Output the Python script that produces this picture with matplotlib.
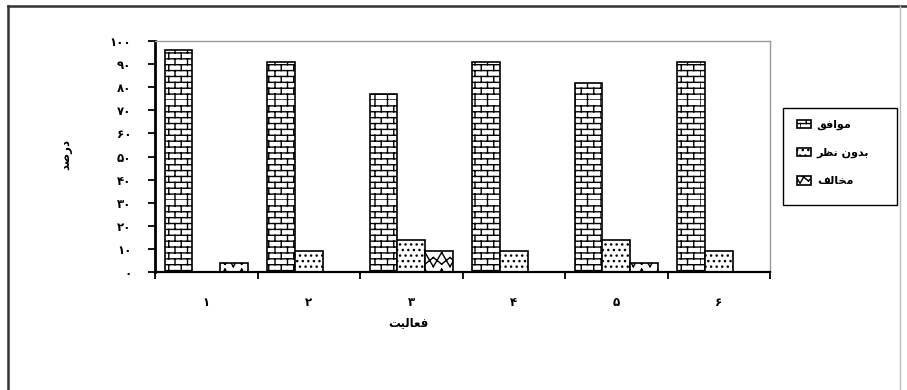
import warnings
import numpy as np
import matplotlib
matplotlib.use("Agg")
import matplotlib.pyplot as plt
from matplotlib import hatch as mhatch
from matplotlib.path import Path
from matplotlib.patches import Rectangle
from matplotlib.lines import Line2D

warnings.simplefilter("ignore")

# ---- data -------------------------------------------------------------
activities = ["۱", "۲", "۳", "۴", "۵", "۶"]
agree = [96, 91, 77, 91, 82, 91]
neutral = [0, 9, 14, 9, 14, 9]
disagree = [4, 0, 9, 0, 4, 0]
series_names = ["موافق", "بدون نظر", "مخالف"]
y_ticks = [0, 10, 20, 30, 40, 50, 60, 70, 80, 90, 100]
y_tick_labels = ["۰", "۱۰", "۲۰", "۳۰", "۴۰", "۵۰", "۶۰", "۷۰", "۸۰", "۹۰", "۱۰۰"]
x_title = "فعالیت"
y_title = "درصد"

# ---- minimal Persian shaping (presentation forms + visual order) -------
FORMS = {  # isolated, final, initial, medial
    "ا": ("\uFE8D", "\uFE8E", None, None),
    "ب": ("\uFE8F", "\uFE90", "\uFE91", "\uFE92"),
    "ت": ("\uFE95", "\uFE96", "\uFE97", "\uFE98"),
    "خ": ("\uFEA5", "\uFEA6", "\uFEA7", "\uFEA8"),
    "د": ("\uFEA9", "\uFEAA", None, None),
    "ر": ("\uFEAD", "\uFEAE", None, None),
    "ص": ("\uFEB9", "\uFEBA", "\uFEBB", "\uFEBC"),
    "ظ": ("\uFEC5", "\uFEC6", "\uFEC7", "\uFEC8"),
    "ع": ("\uFEC9", "\uFECA", "\uFECB", "\uFECC"),
    "ف": ("\uFED1", "\uFED2", "\uFED3", "\uFED4"),
    "ق": ("\uFED5", "\uFED6", "\uFED7", "\uFED8"),
    "ل": ("\uFEDD", "\uFEDE", "\uFEDF", "\uFEE0"),
    "م": ("\uFEE1", "\uFEE2", "\uFEE3", "\uFEE4"),
    "ن": ("\uFEE5", "\uFEE6", "\uFEE7", "\uFEE8"),
    "و": ("\uFEED", "\uFEEE", None, None),
    "ی": ("\uFEEF", "\uFEF0", "\uFEF3", "\uFEF4"),
}


def shape(text):
    def dual(c):
        return c in FORMS and FORMS[c][2] is not None

    out = []
    for i, c in enumerate(text):
        if c not in FORMS:
            out.append(c)
            continue
        prev = text[i - 1] if i > 0 else None
        nxt = text[i + 1] if i < len(text) - 1 else None
        jp = prev is not None and dual(prev)
        jn = dual(c) and nxt in FORMS
        iso, fin, ini, med = FORMS[c]
        out.append(med if jp and jn else fin if jp else ini if jn else iso)
    return "".join(reversed(out))


# ---- custom hatches: brick wall ('b') and zigzag lattice ('z') ---------
class BrickHatch(mhatch.HatchPatternBase):
    rows, cols = 17, 8

    def __init__(self, hatch, density):
        self.on = "b" in hatch
        self.num_vertices = 2 * self.rows * (1 + self.cols) if self.on else 0

    def set_vertices_and_codes(self, vertices, codes):
        pts = []
        for i in range(self.rows):
            y0, y1 = i / self.rows, (i + 1) / self.rows
            pts += [(0, y0), (1, y0)]
            off = 0.5 / self.cols * (i % 2)
            for j in range(self.cols):
                x = j / self.cols + off
                pts += [(x, y0), (x, y1)]
        vertices[:] = pts
        codes[0::2] = Path.MOVETO
        codes[1::2] = Path.LINETO


class ZigzagHatch(mhatch.HatchPatternBase):
    n = 6

    def __init__(self, hatch, density):
        self.on = "z" in hatch
        self.num_vertices = 8 * self.n * self.n if self.on else 0

    def set_vertices_and_codes(self, vertices, codes):
        pts = []
        s = 1 / self.n
        for i in range(self.n):
            y = i * s
            for j in range(self.n):
                x = j * s
                # rising/falling tooth plus a shallower inverted one
                pts += [(x, y), (x + s / 2, y + s * 0.85),
                        (x + s / 2, y + s * 0.85), (x + s, y),
                        (x, y + s * 0.55), (x + s / 2, y + s * 0.15),
                        (x + s / 2, y + s * 0.15), (x + s, y + s * 0.55)]
        vertices[:] = pts
        codes[0::2] = Path.MOVETO
        codes[1::2] = Path.LINETO


mhatch._hatch_types.extend([BrickHatch, ZigzagHatch])

plt.rcParams["font.family"] = ["DejaVu Sans"]
plt.rcParams["hatch.linewidth"] = 1.0

W, H = 907, 390
fig = plt.figure(figsize=(W / 100, H / 100), dpi=100)
fig.patch.set_facecolor("white")


def fx(px):
    return px / W


def fy(py):
    return 1 - py / H


ax = fig.add_axes([fx(155), fy(272), fx(770) - fx(155), fy(41) - fy(272)])

x = np.arange(1, len(activities) + 1)
w = 0.27
style = dict(facecolor="white", edgecolor="black", linewidth=1.2)
b1 = ax.bar(x - w, agree, w, hatch="b", label=shape(series_names[0]), **style)
b2 = ax.bar(x, neutral, w, hatch="...", label=shape(series_names[1]), **style)
b3 = ax.bar(x + w, disagree, w, hatch="z", label=shape(series_names[2]), **style)

ax.set_xlim(0.5, len(activities) + 0.5)
ax.set_ylim(0, 100)

for side in ("top", "right"):
    ax.spines[side].set_color("#9a9a9a")
    ax.spines[side].set_linewidth(1.0)
ax.spines["left"].set_linewidth(2.0)
ax.spines["bottom"].set_linewidth(1.6)

ax.set_yticks(y_ticks)
ax.set_yticklabels(y_tick_labels, fontsize=8.5, fontweight="bold")
ax.tick_params(axis="y", direction="out", length=5, width=1.3, pad=12)

ax.set_xticks(np.arange(0.5, len(activities) + 1, 1.0))
ax.set_xticklabels([])
ax.set_xticks(x, minor=True)
ax.set_xticklabels(activities, minor=True, fontsize=8.5, fontweight="bold")
ax.tick_params(axis="x", which="major", direction="out", length=5, width=1.3)
ax.tick_params(axis="x", which="minor", length=0, pad=17)

fig.text(fx(408), fy(323), shape(x_title), ha="center", va="center",
         fontsize=8.5, fontweight="bold")
fig.text(fx(66), fy(155), shape(y_title), ha="center", va="center",
         rotation=90, fontsize=8.5, fontweight="bold")

leg = fig.legend(handles=[b1, b2, b3], loc="upper left",
                 bbox_to_anchor=(fx(789), fy(112)), frameon=False,
                 prop=dict(size=8, weight="bold"), handlelength=1.3,
                 handleheight=0.8, handletextpad=0.5, labelspacing=1.6,
                 borderpad=0.2)

fig.add_artist(Rectangle((fx(783), fy(205)), fx(897) - fx(783),
                         fy(108) - fy(205), transform=fig.transFigure,
                         fill=False, edgecolor="black", linewidth=1.0))

# outer frame around the chart
frame = dict(transform=fig.transFigure, color="#333333", linewidth=1.8)
fig.add_artist(Line2D([fx(8), fx(8)], [fy(6), 0], **frame))
fig.add_artist(Line2D([fx(8), 1], [fy(6), fy(6)], **frame))
fig.add_artist(Line2D([fx(900), fx(900)], [fy(6), 0], transform=fig.transFigure,
                      color="#bbbbbb", linewidth=1.0))

fig.savefig("out.png", dpi=100)
